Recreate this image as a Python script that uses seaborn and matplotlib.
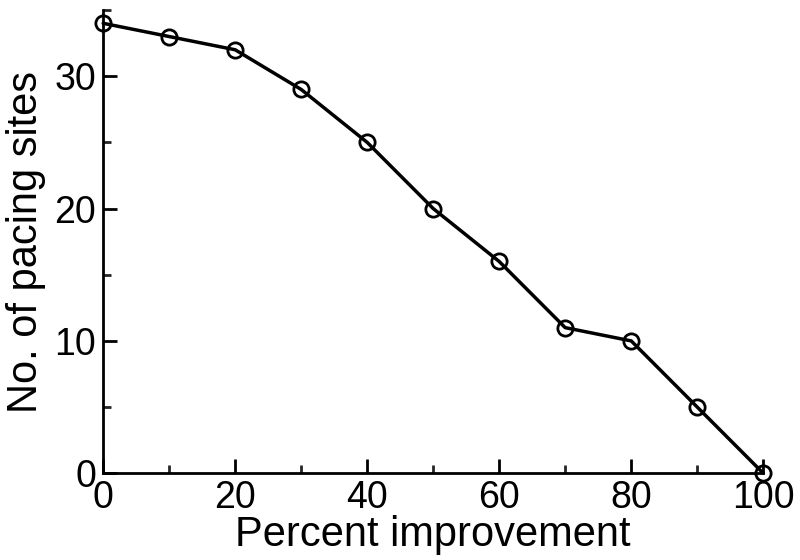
import matplotlib
matplotlib.use("Agg")
import matplotlib.pyplot as plt
import seaborn as sns
import pandas as pd
from matplotlib.ticker import MultipleLocator

percent = [0, 10, 20, 30, 40, 50, 60, 70, 80, 90, 100]
sites = [34, 33, 32, 29, 25, 20, 16, 11, 10, 5, 0]

sns.set_style("white")
plt.rcParams['font.family'] = ['Liberation Sans', 'DejaVu Sans']

df = pd.DataFrame({"Percent improvement": percent, "No. of pacing sites": sites})

fig = plt.figure(figsize=(8, 5.6), dpi=100)
ax = fig.add_axes([0.129, 0.155, 0.825, 0.827])
sns.lineplot(data=df, x="Percent improvement", y="No. of pacing sites", ax=ax,
             color="black", linewidth=2.5, marker="o", markersize=11,
             markerfacecolor="none", markeredgecolor="black", markeredgewidth=2)

ax.set_xlim(0, 100)
ax.set_ylim(0, 35)
ax.xaxis.set_major_locator(MultipleLocator(20))
ax.xaxis.set_minor_locator(MultipleLocator(10))
ax.yaxis.set_major_locator(MultipleLocator(10))
ax.yaxis.set_minor_locator(MultipleLocator(5))
ax.tick_params(which="major", direction="in", length=10, width=2, labelsize=27, pad=5, colors="black")
ax.tick_params(which="minor", direction="in", length=6, width=2)
ax.tick_params(axis="y", which="both", left=True)
ax.tick_params(axis="x", which="both", bottom=True)
for s in ["top", "right"]:
    ax.spines[s].set_visible(False)
for s in ["left", "bottom"]:
    ax.spines[s].set_linewidth(2)
    ax.spines[s].set_color("black")
ax.set_xlabel("Percent improvement", fontsize=30, labelpad=-1, color="black")
ax.set_ylabel("No. of pacing sites", fontsize=30, labelpad=6, color="black")
for l in ax.get_xticklabels() + ax.get_yticklabels():
    l.set_clip_on(False)
ax.lines[0].set_clip_on(False)

fig.savefig("out.png", dpi=100)
